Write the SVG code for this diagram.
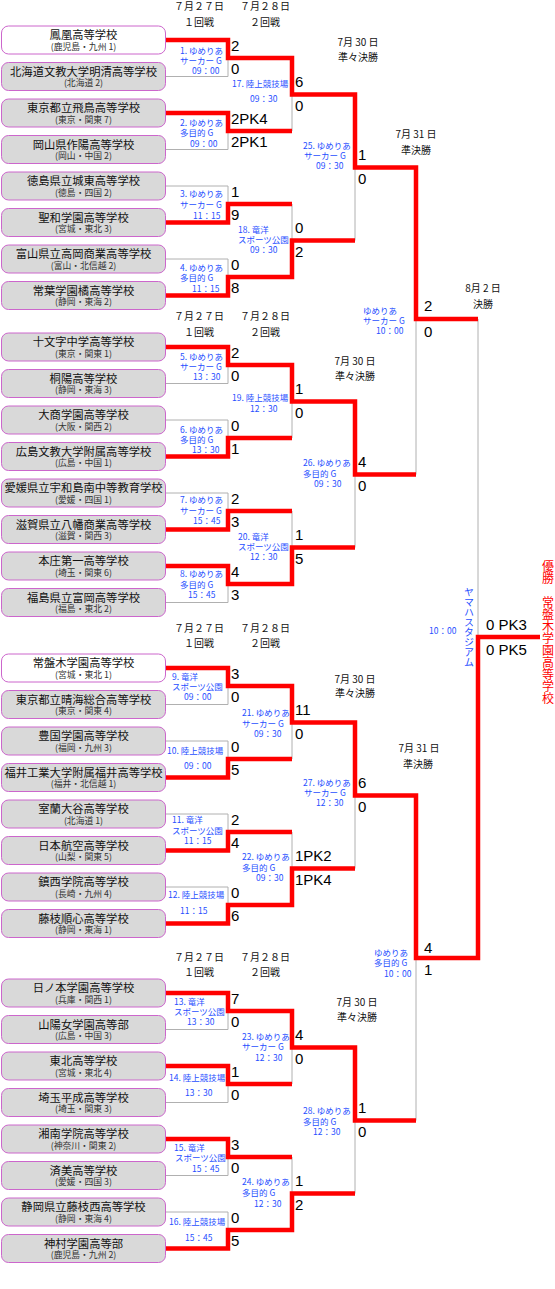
<svg xmlns="http://www.w3.org/2000/svg" width="555" height="1289" viewBox="0 0 555 1289">
<style>
.box{fill:#d9d9d9;stroke:#cc66cc;stroke-width:1}
.wb{fill:#ffffff;stroke:#cc66cc;stroke-width:1}
.nm{font-family:"Noto Sans CJK JP",sans-serif;font-size:11.3px;fill:#111;text-anchor:middle}
.sub{font-family:"Noto Sans CJK JP",sans-serif;font-size:8.8px;fill:#333;text-anchor:middle}
.sc{font-family:"Liberation Sans",Arial,sans-serif;font-size:15px;fill:#000}
.lb{font-family:"Noto Sans CJK JP",sans-serif;font-size:8.5px;fill:#1f4fff}
.hd{font-family:"Noto Sans CJK JP",sans-serif;font-size:10px;fill:#111;text-anchor:middle}
.r{fill:none;stroke:#ff0000;stroke-width:4.5;stroke-linejoin:miter}
.g{fill:none;stroke:#b0b0b0;stroke-width:1}
.vt{font-family:"Noto Sans CJK JP",sans-serif;writing-mode:vertical-rl}
</style>
<rect width="555" height="1289" fill="#ffffff"/>

<g id="headers">
<text class="hd" x="199" y="10">７月２７日</text><text class="hd" x="199" y="26">１回戦</text>
<text class="hd" x="265" y="10">７月２８日</text><text class="hd" x="265" y="26">２回戦</text>
<text class="hd" x="199" y="320">７月２７日</text><text class="hd" x="199" y="336">１回戦</text>
<text class="hd" x="265" y="320">７月２８日</text><text class="hd" x="265" y="336">２回戦</text>
<text class="hd" x="199" y="632">７月２７日</text><text class="hd" x="199" y="647">１回戦</text>
<text class="hd" x="265" y="632">７月２８日</text><text class="hd" x="265" y="647">２回戦</text>
<text class="hd" x="199" y="961">７月２７日</text><text class="hd" x="199" y="976">１回戦</text>
<text class="hd" x="265" y="961">７月２８日</text><text class="hd" x="265" y="976">２回戦</text>
<text class="hd" x="358" y="46">7月 30 日</text><text class="hd" x="358" y="61">準々決勝</text>
<text class="hd" x="355" y="365">7月 30 日</text><text class="hd" x="355" y="380">準々決勝</text>
<text class="hd" x="355" y="683">7月 30 日</text><text class="hd" x="355" y="697">準々決勝</text>
<text class="hd" x="357" y="1006">7月 30 日</text><text class="hd" x="357" y="1021">準々決勝</text>
<text class="hd" x="416" y="138">7月 31 日</text><text class="hd" x="416" y="154">準決勝</text>
<text class="hd" x="419" y="752">7月 31 日</text><text class="hd" x="418" y="768">準決勝</text>
<text class="hd" x="483" y="292">8月 2 日</text><text class="hd" x="483" y="308">決勝</text>
</g>

<g id="connectors">
<path class="g" d="M166 76.5H228V58M166 149.5H228V131M166 186H228V204M166 259H228V277M292 131V94.5M292 204V240.5M355 240.5V167.5M166 383.5H228V365M166 420H228V438M166 493H228V511M166 602.5H228V584M292 438V401.5M292 511V547.5M355 547.5V474.5M416 474.5V319M166 704.5H228V686M166 741H228V759M166 814H228V832M166 887H228V905M292 759V722.5M292 832V868.5M355 868.5V795.5M166 1029.5H228V1011M166 1102.5H228V1084M166 1175.5H228V1157M166 1212H228V1230M292 1084V1047.5M292 1157V1193.5M355 1193.5V1120.5M416 1120.5V958M478 319V637"/>
<path class="r" d="M166 40H228V58H292V94.5H355V167.5H416V319H478"/>
<path class="r" d="M166 113H228V131H292"/>
<path class="r" d="M166 222.5H228V204H292"/>
<path class="r" d="M166 295.5H228V277H292V240.5H355"/>
<path class="r" d="M166 347H228V365H292V401.5H355V474.5H416"/>
<path class="r" d="M166 456.5H228V438H292"/>
<path class="r" d="M166 529.5H228V511H292"/>
<path class="r" d="M166 566H228V584H292V547.5H355"/>
<path class="r" d="M166 668H228V686H292V722.5H355V795.5H416V958H478V637H540"/>
<path class="r" d="M166 777.5H228V759H292"/>
<path class="r" d="M166 850.5H228V832H292"/>
<path class="r" d="M166 923.5H228V905H292V868.5H355"/>
<path class="r" d="M166 993H228V1011H292V1047.5H355V1120.5H416"/>
<path class="r" d="M166 1066H228V1084H292"/>
<path class="r" d="M166 1139H228V1157H292"/>
<path class="r" d="M166 1248.5H228V1230H292V1193.5H355"/>
</g>

<g id="teams">
<g id="t1" transform="translate(0,26)"><rect class="wb" x="1.5" y="0" width="164" height="28" rx="7"/><text class="nm" x="83.5" y="13">鳳凰高等学校</text><text class="sub" x="83.5" y="23.5">(鹿児島・九州 1)</text></g>
<g id="t2" transform="translate(0,62.5)"><rect class="box" x="1.5" y="0" width="164" height="28" rx="7"/><text class="nm" x="83.5" y="13">北海道文教大学明清高等学校</text><text class="sub" x="83.5" y="23.5">(北海道 2)</text></g>
<g id="t3" transform="translate(0,99)"><rect class="box" x="1.5" y="0" width="164" height="28" rx="7"/><text class="nm" x="83.5" y="13">東京都立飛鳥高等学校</text><text class="sub" x="83.5" y="23.5">(東京・関東 7)</text></g>
<g id="t4" transform="translate(0,135.5)"><rect class="box" x="1.5" y="0" width="164" height="28" rx="7"/><text class="nm" x="83.5" y="13">岡山県作陽高等学校</text><text class="sub" x="83.5" y="23.5">(岡山・中国 2)</text></g>
<g id="t5" transform="translate(0,172)"><rect class="box" x="1.5" y="0" width="164" height="28" rx="7"/><text class="nm" x="83.5" y="13">徳島県立城東高等学校</text><text class="sub" x="83.5" y="23.5">(徳島・四国 2)</text></g>
<g id="t6" transform="translate(0,208.5)"><rect class="box" x="1.5" y="0" width="164" height="28" rx="7"/><text class="nm" x="83.5" y="13">聖和学園高等学校</text><text class="sub" x="83.5" y="23.5">(宮城・東北 3)</text></g>
<g id="t7" transform="translate(0,245)"><rect class="box" x="1.5" y="0" width="164" height="28" rx="7"/><text class="nm" x="83.5" y="13">富山県立高岡商業高等学校</text><text class="sub" x="83.5" y="23.5">(富山・北信越 2)</text></g>
<g id="t8" transform="translate(0,281.5)"><rect class="box" x="1.5" y="0" width="164" height="28" rx="7"/><text class="nm" x="83.5" y="13">常葉学園橘高等学校</text><text class="sub" x="83.5" y="23.5">(静岡・東海 2)</text></g>

<g id="t9" transform="translate(0,333)"><rect class="box" x="1.5" y="0" width="164" height="28" rx="7"/><text class="nm" x="83.5" y="13">十文字中学高等学校</text><text class="sub" x="83.5" y="23.5">(東京・関東 1)</text></g>
<g id="t10" transform="translate(0,369.5)"><rect class="box" x="1.5" y="0" width="164" height="28" rx="7"/><text class="nm" x="83.5" y="13">桐陽高等学校</text><text class="sub" x="83.5" y="23.5">(静岡・東海 3)</text></g>
<g id="t11" transform="translate(0,406)"><rect class="box" x="1.5" y="0" width="164" height="28" rx="7"/><text class="nm" x="83.5" y="13">大商学園高等学校</text><text class="sub" x="83.5" y="23.5">(大阪・関西 2)</text></g>
<g id="t12" transform="translate(0,442.5)"><rect class="box" x="1.5" y="0" width="164" height="28" rx="7"/><text class="nm" x="83.5" y="13">広島文教大学附属高等学校</text><text class="sub" x="83.5" y="23.5">(広島・中国 1)</text></g>
<g id="t13" transform="translate(0,479)"><rect class="box" x="1.5" y="0" width="164" height="28" rx="7"/><text class="nm" x="83.5" y="13">愛媛県立宇和島南中等教育学校</text><text class="sub" x="83.5" y="23.5">(愛媛・四国 1)</text></g>
<g id="t14" transform="translate(0,515.5)"><rect class="box" x="1.5" y="0" width="164" height="28" rx="7"/><text class="nm" x="83.5" y="13">滋賀県立八幡商業高等学校</text><text class="sub" x="83.5" y="23.5">(滋賀・関西 3)</text></g>
<g id="t15" transform="translate(0,552)"><rect class="box" x="1.5" y="0" width="164" height="28" rx="7"/><text class="nm" x="83.5" y="13">本庄第一高等学校</text><text class="sub" x="83.5" y="23.5">(埼玉・関東 6)</text></g>
<g id="t16" transform="translate(0,588.5)"><rect class="box" x="1.5" y="0" width="164" height="28" rx="7"/><text class="nm" x="83.5" y="13">福島県立富岡高等学校</text><text class="sub" x="83.5" y="23.5">(福島・東北 2)</text></g>

<g id="t17" transform="translate(0,654)"><rect class="wb" x="1.5" y="0" width="164" height="28" rx="7"/><text class="nm" x="83.5" y="13">常盤木学園高等学校</text><text class="sub" x="83.5" y="23.5">(宮城・東北 1)</text></g>
<g id="t18" transform="translate(0,690.5)"><rect class="box" x="1.5" y="0" width="164" height="28" rx="7"/><text class="nm" x="83.5" y="13">東京都立晴海総合高等学校</text><text class="sub" x="83.5" y="23.5">(東京・関東 4)</text></g>
<g id="t19" transform="translate(0,727)"><rect class="box" x="1.5" y="0" width="164" height="28" rx="7"/><text class="nm" x="83.5" y="13">豊国学園高等学校</text><text class="sub" x="83.5" y="23.5">(福岡・九州 3)</text></g>
<g id="t20" transform="translate(0,763.5)"><rect class="box" x="1.5" y="0" width="164" height="28" rx="7"/><text class="nm" x="83.5" y="13">福井工業大学附属福井高等学校</text><text class="sub" x="83.5" y="23.5">(福井・北信越 1)</text></g>
<g id="t21" transform="translate(0,800)"><rect class="box" x="1.5" y="0" width="164" height="28" rx="7"/><text class="nm" x="83.5" y="13">室蘭大谷高等学校</text><text class="sub" x="83.5" y="23.5">(北海道 1)</text></g>
<g id="t22" transform="translate(0,836.5)"><rect class="box" x="1.5" y="0" width="164" height="28" rx="7"/><text class="nm" x="83.5" y="13">日本航空高等学校</text><text class="sub" x="83.5" y="23.5">(山梨・関東 5)</text></g>
<g id="t23" transform="translate(0,873)"><rect class="box" x="1.5" y="0" width="164" height="28" rx="7"/><text class="nm" x="83.5" y="13">鎮西学院高等学校</text><text class="sub" x="83.5" y="23.5">(長崎・九州 4)</text></g>
<g id="t24" transform="translate(0,909.5)"><rect class="box" x="1.5" y="0" width="164" height="28" rx="7"/><text class="nm" x="83.5" y="13">藤枝順心高等学校</text><text class="sub" x="83.5" y="23.5">(静岡・東海 1)</text></g>

<g id="t25" transform="translate(0,979)"><rect class="box" x="1.5" y="0" width="164" height="28" rx="7"/><text class="nm" x="83.5" y="13">日ノ本学園高等学校</text><text class="sub" x="83.5" y="23.5">(兵庫・関西 1)</text></g>
<g id="t26" transform="translate(0,1015.5)"><rect class="box" x="1.5" y="0" width="164" height="28" rx="7"/><text class="nm" x="83.5" y="13">山陽女学園高等部</text><text class="sub" x="83.5" y="23.5">(広島・中国 3)</text></g>
<g id="t27" transform="translate(0,1052)"><rect class="box" x="1.5" y="0" width="164" height="28" rx="7"/><text class="nm" x="83.5" y="13">東北高等学校</text><text class="sub" x="83.5" y="23.5">(宮城・東北 4)</text></g>
<g id="t28" transform="translate(0,1088.5)"><rect class="box" x="1.5" y="0" width="164" height="28" rx="7"/><text class="nm" x="83.5" y="13">埼玉平成高等学校</text><text class="sub" x="83.5" y="23.5">(埼玉・関東 3)</text></g>
<g id="t29" transform="translate(0,1125)"><rect class="box" x="1.5" y="0" width="164" height="28" rx="7"/><text class="nm" x="83.5" y="13">湘南学院高等学校</text><text class="sub" x="83.5" y="23.5">(神奈川・関東 2)</text></g>
<g id="t30" transform="translate(0,1161.5)"><rect class="box" x="1.5" y="0" width="164" height="28" rx="7"/><text class="nm" x="83.5" y="13">済美高等学校</text><text class="sub" x="83.5" y="23.5">(愛媛・四国 3)</text></g>
<g id="t31" transform="translate(0,1198)"><rect class="box" x="1.5" y="0" width="164" height="28" rx="7"/><text class="nm" x="83.5" y="13">静岡県立藤枝西高等学校</text><text class="sub" x="83.5" y="23.5">(静岡・東海 4)</text></g>
<g id="t32" transform="translate(0,1234.5)"><rect class="box" x="1.5" y="0" width="164" height="28" rx="7"/><text class="nm" x="83.5" y="13">神村学園高等部</text><text class="sub" x="83.5" y="23.5">(鹿児島・九州 2)</text></g>
</g>

<g id="match-labels">
<text class="lb" x="180" y="54">1. ゆめりあ</text><text class="lb" x="180" y="64">サーカー G</text><text class="lb" x="192" y="74">09：00</text>
<text class="lb" x="180" y="126">2. ゆめりあ</text><text class="lb" x="180" y="136">多目的 G</text><text class="lb" x="190" y="147">09：00</text>
<text class="lb" x="180" y="197">3. ゆめりあ</text><text class="lb" x="180" y="208">サーカー G</text><text class="lb" x="193" y="219">11：15</text>
<text class="lb" x="180" y="271">4. ゆめりあ</text><text class="lb" x="180" y="281">多目的 G</text><text class="lb" x="192" y="292">11：15</text>
<text class="lb" x="180" y="360">5. ゆめりあ</text><text class="lb" x="180" y="370">サーカー G</text><text class="lb" x="193" y="380">13：30</text>
<text class="lb" x="180" y="433">6. ゆめりあ</text><text class="lb" x="180" y="443">多目的 G</text><text class="lb" x="192" y="453">13：30</text>
<text class="lb" x="180" y="503">7. ゆめりあ</text><text class="lb" x="180" y="514">サーカー G</text><text class="lb" x="193" y="524">15：45</text>
<text class="lb" x="180" y="577">8. ゆめりあ</text><text class="lb" x="180" y="588">多目的 G</text><text class="lb" x="188" y="598">15：45</text>
<text class="lb" x="172" y="680">9. 竜洋</text><text class="lb" x="172" y="690">スポーツ公園</text><text class="lb" x="184" y="700">09：00</text>
<text class="lb" x="167" y="754">10. 陸上競技場</text><text class="lb" x="184" y="769">09：00</text>
<text class="lb" x="172" y="823">11. 竜洋</text><text class="lb" x="172" y="834">スポーツ公園</text><text class="lb" x="184" y="844">11：15</text>
<text class="lb" x="168" y="898">12. 陸上競技場</text><text class="lb" x="180" y="914">11：15</text>
<text class="lb" x="174" y="1005">13. 竜洋</text><text class="lb" x="174" y="1015">スポーツ公園</text><text class="lb" x="187" y="1025">13：30</text>
<text class="lb" x="169" y="1081">14. 陸上競技場</text><text class="lb" x="185" y="1096">13：30</text>
<text class="lb" x="174" y="1151">15. 竜洋</text><text class="lb" x="175" y="1161">スポーツ公園</text><text class="lb" x="192" y="1172">15：45</text>
<text class="lb" x="169" y="1225">16. 陸上競技場</text><text class="lb" x="185" y="1241">15：45</text>

<text class="lb" x="232" y="87">17. 陸上競技場</text><text class="lb" x="250" y="102">09：30</text>
<text class="lb" x="238" y="233">18. 竜洋</text><text class="lb" x="238" y="243">スポーツ公園</text><text class="lb" x="250" y="253">09：30</text>
<text class="lb" x="232" y="401">19. 陸上競技場</text><text class="lb" x="250" y="412">12：30</text>
<text class="lb" x="238" y="540">20. 竜洋</text><text class="lb" x="238" y="550">スポーツ公園</text><text class="lb" x="250" y="560">12：30</text>
<text class="lb" x="242" y="716">21. ゆめりあ</text><text class="lb" x="242" y="727">サーカー G</text><text class="lb" x="254" y="737">09：30</text>
<text class="lb" x="242" y="860">22. ゆめりあ</text><text class="lb" x="242" y="871">多目的 G</text><text class="lb" x="256" y="881">09：30</text>
<text class="lb" x="242" y="1040">23. ゆめりあ</text><text class="lb" x="242" y="1050">サーカー G</text><text class="lb" x="255" y="1061">12：30</text>
<text class="lb" x="242" y="1185">24. ゆめりあ</text><text class="lb" x="242" y="1196">多目的 G</text><text class="lb" x="254" y="1207">12：30</text>

<text class="lb" x="303" y="149">25. ゆめりあ</text><text class="lb" x="304" y="159">サーカー G</text><text class="lb" x="316" y="169">09：30</text>
<text class="lb" x="303" y="466">26. ゆめりあ</text><text class="lb" x="303" y="477">多目的 G</text><text class="lb" x="314" y="487">09：30</text>
<text class="lb" x="303" y="786">27. ゆめりあ</text><text class="lb" x="304" y="796">サーカー G</text><text class="lb" x="316" y="806">12：30</text>
<text class="lb" x="303" y="1114">28. ゆめりあ</text><text class="lb" x="303" y="1125">多目的 G</text><text class="lb" x="313" y="1135">12：30</text>

<text class="lb" x="363" y="314">ゆめりあ</text><text class="lb" x="363" y="324">サーカー G</text><text class="lb" x="376" y="334">10：00</text>
<text class="lb" x="374" y="956">ゆめりあ</text><text class="lb" x="374" y="966">多目的 G</text><text class="lb" x="384" y="977">10：00</text>

<text class="lb" x="429" y="634">10：00</text>
<text class="vt" x="469" y="587" font-size="10" fill="#1f4fff" letter-spacing="0.1">ヤマハスタジアム</text>
<text class="vt" x="548" y="560" font-size="12" fill="#ff0000">優勝　常盤木学園高等学校</text>
</g>

<g id="scores">
<text class="sc" x="231" y="50.5">2</text><text class="sc" x="231" y="74">0</text>
<text class="sc" x="231" y="123.5">2PK4</text><text class="sc" x="231" y="147">2PK1</text>
<text class="sc" x="231" y="196.5">1</text><text class="sc" x="231" y="220">9</text>
<text class="sc" x="231" y="269.5">0</text><text class="sc" x="231" y="293">8</text>
<text class="sc" x="231" y="357.5">2</text><text class="sc" x="231" y="381">0</text>
<text class="sc" x="231" y="430.5">0</text><text class="sc" x="231" y="454">1</text>
<text class="sc" x="231" y="503.5">2</text><text class="sc" x="231" y="527">3</text>
<text class="sc" x="231" y="576.5">4</text><text class="sc" x="231" y="600">3</text>
<text class="sc" x="231" y="678.5">3</text><text class="sc" x="231" y="702">0</text>
<text class="sc" x="231" y="751.5">0</text><text class="sc" x="231" y="775">5</text>
<text class="sc" x="231" y="824.5">2</text><text class="sc" x="231" y="848">4</text>
<text class="sc" x="231" y="897.5">0</text><text class="sc" x="231" y="921">6</text>
<text class="sc" x="231" y="1003.5">7</text><text class="sc" x="231" y="1027">0</text>
<text class="sc" x="231" y="1076.5">1</text><text class="sc" x="231" y="1100">0</text>
<text class="sc" x="231" y="1149.5">3</text><text class="sc" x="231" y="1173">0</text>
<text class="sc" x="231" y="1222.5">0</text><text class="sc" x="231" y="1246">5</text>

<text class="sc" x="295" y="87">6</text><text class="sc" x="295" y="110.5">0</text>
<text class="sc" x="295" y="233">0</text><text class="sc" x="295" y="256.5">2</text>
<text class="sc" x="295" y="394">1</text><text class="sc" x="295" y="417.5">0</text>
<text class="sc" x="295" y="540">1</text><text class="sc" x="295" y="563.5">5</text>
<text class="sc" x="295" y="715">11</text><text class="sc" x="295" y="738.5">0</text>
<text class="sc" x="295" y="861">1PK2</text><text class="sc" x="295" y="884.5">1PK4</text>
<text class="sc" x="295" y="1040">4</text><text class="sc" x="295" y="1063.5">0</text>
<text class="sc" x="295" y="1186">1</text><text class="sc" x="295" y="1209.5">2</text>

<text class="sc" x="358" y="160">1</text><text class="sc" x="358" y="183.5">0</text>
<text class="sc" x="358" y="467">4</text><text class="sc" x="358" y="490.5">0</text>
<text class="sc" x="358" y="788">6</text><text class="sc" x="358" y="811.5">0</text>
<text class="sc" x="358" y="1113">1</text><text class="sc" x="358" y="1136.5">0</text>

<text class="sc" x="424" y="311">2</text><text class="sc" x="424" y="337">0</text>
<text class="sc" x="424" y="953">4</text><text class="sc" x="424" y="975">1</text>

<text class="sc" x="486" y="630">0 PK3</text><text class="sc" x="486" y="655">0 PK5</text>
</g>
</svg>
